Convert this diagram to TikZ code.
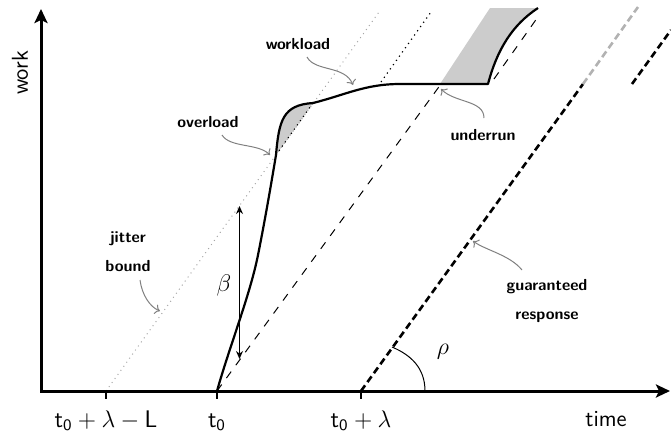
\documentclass[tikz,border=0pt]{standalone}
\usetikzlibrary{arrows.meta}
\begin{document}
\begin{tikzpicture}[x=0.5pt,y=-0.5pt,
  axis/.style={line width=1.5pt,{Stealth[length=7pt,width=6.5pt,inset=1.5pt]}-{Stealth[length=7pt,width=6.5pt,inset=1.5pt]}},
  tickmark/.style={line width=1pt},
  curve/.style={line width=1.1pt,line join=round},
  jitter/.style={black!35,dotted,line width=0.5pt},
  dotblack/.style={black,dotted,line width=0.6pt},
  thindash/.style={line width=0.5pt,dash pattern=on 4pt off 4pt},
  thickdash/.style={line width=1.3pt,dash pattern=on 3.5pt off 2pt},
  annot/.style={black!50,line width=0.5pt,-{To[length=2.5pt,width=5pt]}},
  lbl/.style={font=\fontsize{8}{14.5}\selectfont\sffamily\bfseries,align=center,inner sep=0pt},
  axlbl/.style={font=\fontsize{11.5}{13}\selectfont\sffamily,inner sep=0pt},
  mathlbl/.style={font=\fontsize{12}{14}\selectfont,inner sep=0pt},
  shade/.style={fill=black!20}]

\useasboundingbox (0,0) rectangle (671,435);

% key coordinates
\coordinate (O) at (41,391);
\coordinate (ytop) at (41,9);
\coordinate (xend) at (670,391);
\coordinate (tL) at (106,391);
\coordinate (t0) at (217,391);
\coordinate (tl) at (361,391);

% shaded regions
\fill[shade] (276,155) .. controls (279,120) and (283,105) .. (313,103) -- cycle;
\fill[shade] (440,84) -- (488,84) .. controls (497,50) and (512,25) .. (538,8) -- (490,8) -- cycle;

% reference lines
\draw[jitter] (tL) -- (379,12);
\draw[dotblack] (276,155) -- (313,103);
\draw[dotblack] (381,82) -- (431,12);
\draw[thindash] (t0) -- (441,84);
\draw[thindash] (494,79) -- (540,14);
\draw[thickdash] (tl) -- (583,84);
\draw[thickdash,black!30] (583,84) -- (638,7);
\draw[thickdash] (632,84) -- (671,30);

% workload curve
\draw[curve] (t0) .. controls (230,345) and (250,295) .. (258,255)
  .. controls (265,220) and (271,185) .. (276,155)
  .. controls (279,120) and (283,105) .. (313,103)
  .. controls (345,95) and (365,84) .. (400,84) -- (488,84)
  .. controls (497,50) and (512,25) .. (538,8);

% axes
\draw[axis] (ytop) -- (O) -- (xend);
\draw[tickmark] (tL) -- ++(0,8);
\draw[tickmark] (t0) -- ++(0,8);
\draw[tickmark] (tl) -- ++(0,8);

% beta
\coordinate (bt) at (239.5,206);
\coordinate (bb) at (239.5,359);
\draw[line width=0.5pt,{Stealth[length=4pt,width=3.5pt]}-{Stealth[length=4pt,width=3.5pt]}] (bt) -- (bb);
\node[mathlbl] (beta) at (224,285) {$\beta$};

% rho
\coordinate (rs) at (425,391);
\coordinate (re) at (392,347);
\draw[line width=0.5pt] (rs) .. controls (425,368) and (411,355) .. (re);
\node[mathlbl] (rho) at (443,352) {$\rho$};

% axis labels
\node[axlbl,rotate=90] (work) at (20,73) {work};
\node[axlbl,anchor=base] (time) at (606,426) {time};
\node[axlbl,anchor=base] (lab1) at (106,427) {$\mathsf{t}_{\mathsf{0}}+\lambda-\mathsf{L}$};
\node[axlbl,anchor=base] (lab2) at (217,427) {$\mathsf{t}_{\mathsf{0}}$};
\node[axlbl,anchor=base] (lab3) at (361,427) {$\mathsf{t}_{\mathsf{0}}+\lambda$};

% annotations
\node[lbl] (wl) at (298,44) {workload};
\coordinate (wls) at (307,57);
\coordinate (wlt) at (353,85);
\draw[annot] (wls) .. controls (315,72) and (345,65) .. (wlt);

\node[lbl] (ol) at (208,122) {overload};
\coordinate (ols) at (222,135);
\coordinate (olt) at (270,155);
\draw[annot] (ols) .. controls (230,148) and (258,143) .. (olt);

\node[lbl] (ur) at (483,135) {underrun};
\coordinate (urs) at (484,118);
\coordinate (urt) at (441,89);
\draw[annot] (urs) .. controls (484,100) and (455,103) .. (urt);

\node[lbl] (jb) at (128,251.5) {jitter\\bound};
\coordinate (jbs) at (140,280);
\coordinate (jbt) at (160,311);
\draw[annot] (jbs) .. controls (142,295) and (150,307) .. (jbt);

\node[lbl] (gr) at (547,300.5) {guaranteed\\response};
\coordinate (grs) at (522,270);
\coordinate (grt) at (473,241);
\draw[annot] (grs) .. controls (510,255) and (485,250) .. (grt);
\end{tikzpicture}
\end{document}
